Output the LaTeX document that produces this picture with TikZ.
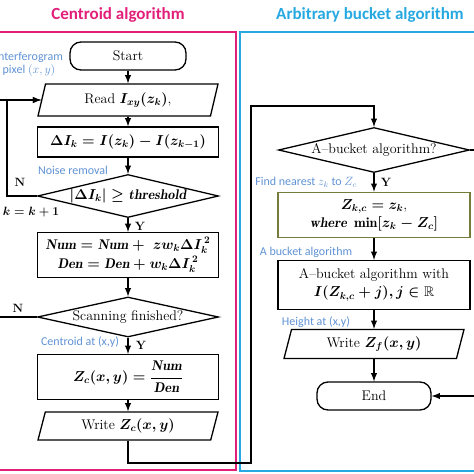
\documentclass[tikz,border=0pt]{standalone}
\usepackage{fontspec}
\usepackage{amsmath, amssymb}
\newfontfamily\labelfont{Carlito}
\usetikzlibrary{positioning, arrows, shapes}
\definecolor{centroidpink}{RGB}{226,32,122}
\definecolor{bucketblue}{RGB}{38,168,224}
\definecolor{noteblue}{RGB}{96,146,212}
\definecolor{olivebox}{RGB}{118,124,58}
\begin{document}
\begin{tikzpicture}[x=1pt, y=-1pt,
	box/.style={draw, rectangle, line width=1.3pt, text centered, minimum width=181pt, inner sep=1pt, font=\fontsize{14}{18}\selectfont\boldmath},
	io/.style={draw, trapezium, trapezium left angle=66, trapezium right angle=114, trapezium stretches body, line width=1.3pt, minimum width=180pt, inner sep=1pt, font=\fontsize{14}{18}\selectfont\boldmath},
	decision/.style={draw, diamond, line width=1.3pt, minimum width=181pt, inner sep=0pt, inner xsep=-18pt, aspect=4, font=\fontsize{14}{18}\selectfont\boldmath},
	terminal/.style={draw, rectangle, rounded corners=11pt, line width=1.3pt, minimum width=116pt, minimum height=28pt, font=\fontsize{14}{18}\selectfont},
	note/.style={text=noteblue, inner sep=0pt, font=\labelfont\fontsize{12}{13}\selectfont},
	yn/.style={inner sep=0pt, font=\fontsize{12}{13}\selectfont\bfseries},
	title/.style={inner sep=0pt, font=\labelfont\bfseries\fontsize{17}{20}\selectfont},
	flow/.style={-latex, line width=1.8pt}]

			\useasboundingbox (0,0) rectangle (474,474);
			\clip (0,0) rectangle (474,474);

			\draw[centroidpink, line width=1.5pt] (-6,32) rectangle (236,470);
			\draw[bucketblue, line width=1.5pt] (240,32) rectangle (482,471);
			\node (titleleft) at (118,15) [title, text=centroidpink]{Centroid algorithm};
			\node (titleright) at (370,15) [title, text=bucketblue]{Arbitrary bucket algorithm};

			\node (start) at (128,56) [terminal]{Start};
			\node (read) at (128,100) [io, minimum height=32pt]{Read $I_{xy}(z_k)$,};
			\node (diff) at (128,142) [box, minimum height=30pt]{$\Delta I_k = I(z_k) - I(z_{k-1})$};
			\node (noise) at (128,196) [decision, minimum height=43pt]{$|\Delta I_k| \geq \mathit{threshold}$};
			\node (sum) at (128,255) [box, minimum height=45pt, align=center]{$\mathit{Num} = \mathit{Num} +\ zw_k\Delta I_k^{\,2}$\\[1pt]$\mathit{Den} = \mathit{Den} + w_k\Delta I_k^{\,2}$};
			\node (scan) at (128,317) [decision, minimum height=40pt]{Scanning finished?};
			\node (centroid) at (128,377) [box, minimum height=45pt]{$Z_c(x,y) = \dfrac{\mathit{Num}}{\mathit{Den}}$};
			\node (writec) at (128,426) [io, minimum height=28pt]{Write $Z_c(x,y)$};

			\node (pixellabel) at (29,64) [note, align=center]{Interferogram\\pixel $(x,y)$};
			\node (noiselabel) at (73,170) [note]{Noise removal};
			\node (centroidlabel) at (80,342) [note]{Centroid at (x,y)};
			\node (nnoise) at (20,182) [yn]{N};
			\node (nscan) at (18,308) [yn]{N};
			\node (incr) at (31,212) [font=\fontsize{13}{15}\selectfont\boldmath]{$k = k + 1$};
			\node (ynoise) at (140,226) [yn]{Y};
			\node (yscan) at (141,345) [yn]{Y};

			\draw[flow] (start) -- (read);
			\draw[flow] (read) -- (diff);
			\draw[flow] (diff) -- (noise);
			\draw[flow] (noise) -- (sum);
			\draw[flow] (sum) -- (scan);
			\draw[flow] (scan) -- (centroid);
			\draw[flow] (centroid) -- (writec);

			\coordinate (innerloop) at (7,100);
			\coordinate (outerloop) at (-10,100);
			\draw[flow] (noise.west) -| (innerloop) -- (read.west);
			\draw[flow] (scan.west) -| (outerloop) -- (read.west);

			\node (abucket) at (374,150) [decision, minimum width=191pt, minimum height=45pt]{A--bucket algorithm?};
			\node (nearest) at (374,215) [box, draw=olivebox, line width=1.6pt, minimum width=192pt, minimum height=45pt, align=center]{$Z_{k,c} = z_k$,\\$\mathit{where}\ \min[z_k - Z_c]$};
			\node (bucket) at (374,285) [box, minimum width=192pt, minimum height=49pt, align=center]{A--bucket algorithm with\\$I(Z_{k,c}+j), j \in \mathbb{R}$};
			\node (writef) at (374,344) [io, minimum height=29pt]{Write $Z_f(x,y)$};
			\node (theend) at (374,396) [terminal, minimum width=114pt]{End};

			\node (nearestlabel) at (306,182) [note]{Find nearest $z_k$ to $Z_c$};
			\node (bucketlabel) at (306,252) [note]{A bucket algorithm};
			\node (heightlabel) at (316,322) [note]{Height at (x,y)};
			\node (yabucket) at (386,182) [yn]{Y};

			\draw[flow] (abucket) -- (nearest);
			\draw[flow] (nearest) -- (bucket);
			\draw[flow] (bucket) -- (writef);
			\draw[flow] (writef) -- (theend);

			\coordinate (bottomturn) at (251,463);
			\coordinate (topturn) at (251,106);
			\coordinate (rightturn) at (490,150);
			\draw[flow] (writec.south) |- (bottomturn) -- (topturn) -| (abucket.north);
			\draw[flow] (abucket.east) -- (rightturn) |- (theend.east);

\end{tikzpicture}
\end{document}
